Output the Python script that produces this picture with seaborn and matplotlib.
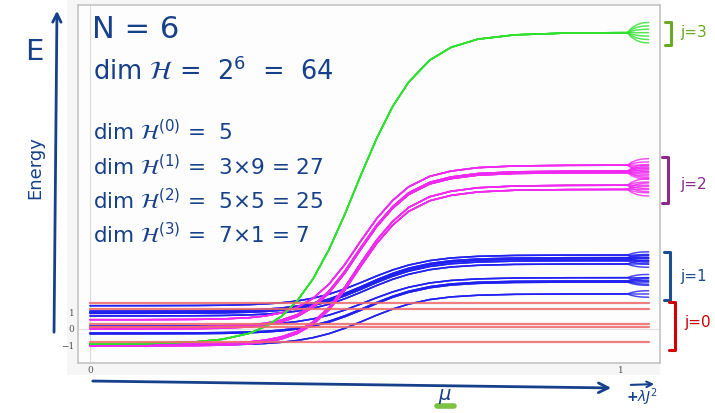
import matplotlib
matplotlib.use("Agg")
import matplotlib.pyplot as plt
from matplotlib.patches import FancyArrowPatch, Rectangle
from matplotlib.lines import Line2D
import pandas as pd
import seaborn as sns

# coupling parameter and the normalised rise of each spin sector along it
mu = [0, 0.1, 0.2, 0.25, 0.3, 0.33, 0.36, 0.39, 0.42, 0.45, 0.48, 0.51,
      0.54, 0.57, 0.6, 0.64, 0.68, 0.73, 0.8, 0.9, 1.0]
rise_j1 = [0.0, 0.001, 0.004, 0.009, 0.021, 0.035, 0.057, 0.093, 0.148, 0.226, 0.332,
           0.456, 0.587, 0.706, 0.802, 0.891, 0.943, 0.975, 0.993, 0.999, 1.0]
rise_j2 = [0.0, 0.0, 0.002, 0.005, 0.013, 0.024, 0.044, 0.079, 0.138, 0.230, 0.358,
           0.510, 0.655, 0.772, 0.860, 0.928, 0.962, 0.984, 0.995, 0.999, 1.0]
rise_j3 = [0.0, 0.001, 0.007, 0.015, 0.034, 0.056, 0.088, 0.138, 0.209, 0.303, 0.417,
           0.542, 0.661, 0.763, 0.841, 0.912, 0.953, 0.979, 0.993, 0.999, 1.0]

# levels at mu = 0 and at mu = 1 in each sector
levels_j0 = [-0.82, 0.14, 0.29, 1.21, 1.58]
start_j1 = [-1.0, -0.3, -0.25, 0.18, 0.8, 0.96, 1.02, 1.1, 1.43]
end_j1 = [2.15, 2.88, 2.95, 3.15, 3.99, 4.19, 4.3, 4.38, 4.54]
start_j2 = [-1.04, -0.92, 0.0, 0.12, 0.57]
end_j2 = [8.57, 8.83, 9.6, 9.7, 10.06]
start_j3 = [-0.92]
end_j3 = [18.2]

# splitting of the m sub-levels once the lambda J^2 term is switched on
fan_mu = [1.012, 1.02, 1.03, 1.04, 1.052]
fan_shape = [0.0, 0.45, 0.78, 0.95, 1.0]
m_offsets_j1 = [-0.2, 0.0, 0.2]
m_offsets_j2 = [-0.4, -0.2, 0.0, 0.2, 0.4]
m_offsets_j3 = [-0.63, -0.42, -0.21, 0.0, 0.21, 0.42, 0.63]

rows = []
for k, lev in enumerate(levels_j0):
    for x in (mu[0], fan_mu[-1]):
        rows.append(("j=0", f"j0_{k}", x, lev))


def add_sector(label, starts, ends, rise, offsets):
    for k, (s, e) in enumerate(zip(starts, ends)):
        for m, off in enumerate(offsets):
            name = f"{label}_{k}_{m}"
            for x, r in zip(mu, rise):
                rows.append((label, name, x, s + (e - s) * r))
            for x, g in zip(fan_mu, fan_shape):
                rows.append((label, name, x, e + off * g))


add_sector("j=1", start_j1, end_j1, rise_j1, m_offsets_j1)
add_sector("j=2", start_j2, end_j2, rise_j2, m_offsets_j2)
add_sector("j=3", start_j3, end_j3, rise_j3, m_offsets_j3)
df = pd.DataFrame(rows, columns=["sector", "state", "mu", "E"])

sns.set_theme(style="white")
plt.rcParams["font.family"] = ["DejaVu Sans"]
plt.rcParams["mathtext.fontset"] = "dejavusans"

W, H = 715, 413
fig = plt.figure(figsize=(W / 100, H / 100), dpi=100, facecolor="white")


def fx(x):
    return x / W


def fy(y):
    return 1 - y / H


fig.patches.append(Rectangle((fx(67), fy(375)), fx(660) - fx(67), fy(0) - fy(375),
                             transform=fig.transFigure, facecolor="#f6f6f6",
                             edgecolor="none", zorder=-10))

ax = fig.add_axes([fx(78), fy(363), fx(660) - fx(78), fy(5) - fy(363)])
ax.set_zorder(1)
ax.set_facecolor("#fdfdfd")
ax.axvline(0, color="#dadada", lw=0.8, zorder=0)
ax.axhline(0, color="#e2e2e2", lw=0.8, zorder=0)

palette = {"j=0": "#f06868", "j=1": "#1f1ff0", "j=2": "#f028f0", "j=3": "#2fe02f"}
sns.lineplot(data=df[df["sector"] != "j=0"], x="mu", y="E", hue="sector", units="state",
             estimator=None, palette=palette, sort=False, lw=1.1, alpha=0.8,
             legend=False, ax=ax)
sns.lineplot(data=df[df["sector"] == "j=0"], x="mu", y="E", hue="sector", units="state",
             estimator=None, palette=palette, sort=False, lw=1.6, alpha=0.85,
             legend=False, ax=ax)

ax.set_xlim(-0.0226, 1.0734)
ax.set_ylim(-2.09, 19.9)
ax.set_xticks([0, 1])
ax.set_xticklabels(["0", "1"])
ax.set_yticks([-1, 0, 1])
ax.set_yticklabels(["\u22121", "0", "1"])
ax.tick_params(direction="in", length=2.5, width=0.6, colors="#aaaaaa",
               labelcolor="#555555", labelsize=6.5, pad=2.5)
for lab in ax.get_xticklabels() + ax.get_yticklabels():
    lab.set_family("DejaVu Serif")
ax.set_xlabel("")
ax.set_ylabel("")
for sp in ax.spines.values():
    sp.set_color("#c4c4c4")
    sp.set_linewidth(1.2)

ink = "#17408b"
# sector dimensions
txt = dict(color=ink, va="center", ha="left", zorder=5)
fig.text(fx(92), fy(29), "N = 6", fontsize=22, **txt)
fig.text(fx(93), fy(71), r"dim $\mathcal{H}$ =  $2^6$  =  64", fontsize=18.5, **txt)
fig.text(fx(93), fy(131), r"dim $\mathcal{H}^{(0)}$ =  5", fontsize=15.5, **txt)
fig.text(fx(93), fy(166), r"dim $\mathcal{H}^{(1)}$ =  3×9 = 27", fontsize=15.5, **txt)
fig.text(fx(93), fy(200), r"dim $\mathcal{H}^{(2)}$ =  5×5 = 25", fontsize=15.5, **txt)
fig.text(fx(93), fy(234), r"dim $\mathcal{H}^{(3)}$ =  7×1 = 7", fontsize=15.5, **txt)

# energy axis
fig.text(fx(34), fy(52), "E", color=ink, fontsize=21, va="center", ha="center")
fig.text(fx(35), fy(168), "Energy", color=ink, fontsize=13, va="center", ha="center",
         rotation=90)
fig.add_artist(FancyArrowPatch((fx(54), fy(335)), (fx(57), fy(8)), transform=fig.transFigure,
                               arrowstyle="->,head_length=6,head_width=3", color=ink, lw=2))

# coupling axis
fig.add_artist(FancyArrowPatch((fx(90), fy(381)), (fx(614), fy(388)), transform=fig.transFigure,
                               arrowstyle="->,head_length=7,head_width=3.5", color=ink, lw=2))
fig.add_artist(Line2D([fx(437), fx(454)], [fy(406), fy(406)], transform=fig.transFigure,
                      color="#7dc242", lw=4, solid_capstyle="round"))
fig.text(fx(445), fy(397), r"$\mu$", color=ink, fontsize=14, va="center", ha="center")
fig.add_artist(FancyArrowPatch((fx(628), fy(385)), (fx(657), fy(384)), transform=fig.transFigure,
                               arrowstyle="->,head_length=4,head_width=2", color=ink, lw=1.5))
fig.text(fx(642), fy(397), r"+$\lambda J^2$", color=ink, fontsize=10, va="center", ha="center",
         fontweight="bold")

# sector brackets on the right
brackets = [
    ("j=3", 671, 22, 45, "#6aaa22", 694, 33),
    ("j=2", 668, 157, 203, "#8c2a8c", 694, 184),
    ("j=1", 670, 252, 300, "#1b4f91", 694, 276),
    ("j=0", 675, 302, 350, "#d40000", 698, 323),
]
for label, bx, y0, y1, col, tx, ty in brackets:
    fig.add_artist(Line2D([fx(bx - 6), fx(bx), fx(bx), fx(bx - 6)],
                          [fy(y0), fy(y0), fy(y1), fy(y1)], transform=fig.transFigure,
                          color=col, lw=2.2))
    fig.text(fx(tx), fy(ty), label, color=col, fontsize=11, va="center", ha="center")

fig.savefig("out.png", dpi=100, facecolor="white")
